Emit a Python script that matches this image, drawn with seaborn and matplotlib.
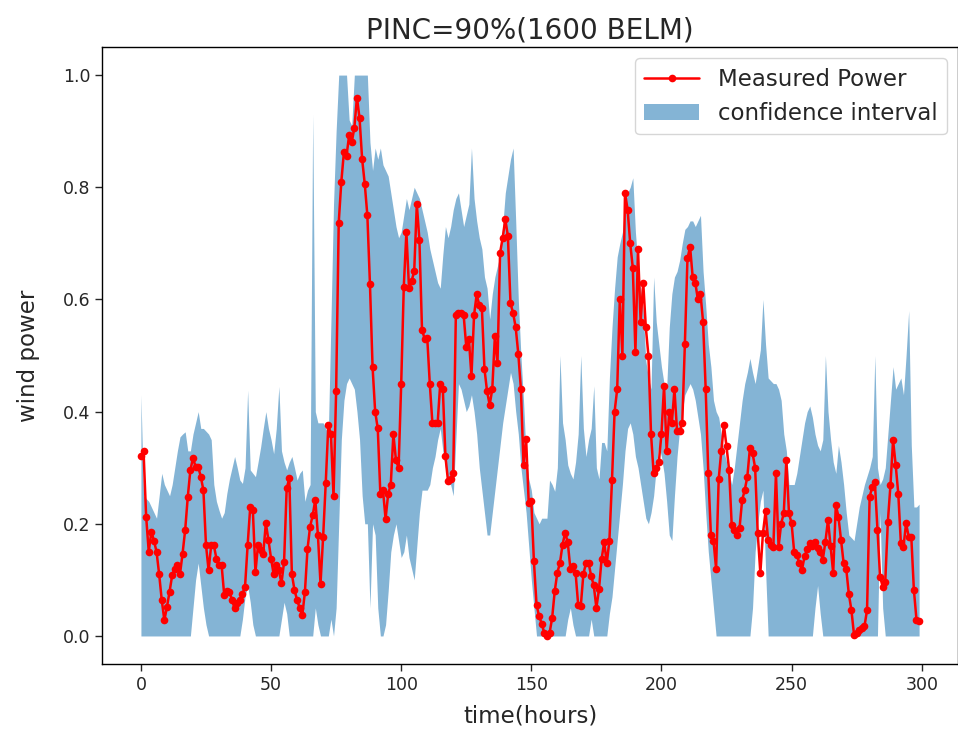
import numpy as np
import pandas as pd
import matplotlib
matplotlib.use("Agg")
import matplotlib.pyplot as plt
import seaborn as sns

title = "PINC=90%(1600 BELM)"
x_label = "time(hours)"
y_label = "wind power"
line_label = "Measured Power"
band_label = "confidence interval"

measured = [
    0.32, 0.33, 0.213, 0.15, 0.186, 0.17, 0.15, 0.11, 0.064, 0.028,
    0.052, 0.079, 0.108, 0.12, 0.126, 0.11, 0.147, 0.189, 0.248, 0.296,
    0.317, 0.302, 0.302, 0.284, 0.26, 0.162, 0.117, 0.162, 0.162, 0.138,
    0.126, 0.126, 0.073, 0.08, 0.079, 0.064, 0.049, 0.058, 0.064, 0.075,
    0.088, 0.162, 0.23, 0.224, 0.114, 0.162, 0.153, 0.147, 0.201, 0.171,
    0.138, 0.11, 0.126, 0.117, 0.094, 0.132, 0.263, 0.281, 0.11, 0.082,
    0.064, 0.05, 0.037, 0.078, 0.155, 0.195, 0.215, 0.243, 0.18, 0.093,
    0.176, 0.272, 0.376, 0.36, 0.249, 0.436, 0.737, 0.81, 0.863, 0.856,
    0.893, 0.88, 0.906, 0.96, 0.923, 0.85, 0.806, 0.75, 0.627, 0.48,
    0.40, 0.37, 0.253, 0.26, 0.209, 0.253, 0.27, 0.36, 0.313, 0.30,
    0.449, 0.623, 0.72, 0.62, 0.633, 0.65, 0.77, 0.706, 0.546, 0.53,
    0.532, 0.449, 0.379, 0.379, 0.379, 0.45, 0.44, 0.32, 0.276, 0.28,
    0.29, 0.572, 0.576, 0.576, 0.572, 0.516, 0.53, 0.463, 0.572, 0.609,
    0.59, 0.585, 0.476, 0.436, 0.412, 0.44, 0.535, 0.486, 0.683, 0.71,
    0.743, 0.713, 0.593, 0.576, 0.55, 0.503, 0.44, 0.305, 0.352, 0.237,
    0.24, 0.133, 0.056, 0.035, 0.022, 0.005, 0.0, 0.005, 0.032, 0.08,
    0.113, 0.13, 0.163, 0.184, 0.167, 0.12, 0.124, 0.113, 0.056, 0.053,
    0.11, 0.13, 0.13, 0.107, 0.09, 0.05, 0.083, 0.137, 0.167, 0.13,
    0.17, 0.278, 0.40, 0.44, 0.60, 0.50, 0.79, 0.76, 0.70, 0.656,
    0.507, 0.69, 0.56, 0.63, 0.55, 0.50, 0.36, 0.29, 0.30, 0.31,
    0.36, 0.446, 0.33, 0.40, 0.38, 0.44, 0.365, 0.365, 0.38, 0.52,
    0.673, 0.694, 0.64, 0.63, 0.60, 0.61, 0.56, 0.44, 0.29, 0.18,
    0.17, 0.12, 0.28, 0.33, 0.376, 0.338, 0.296, 0.198, 0.189, 0.18,
    0.192, 0.242, 0.26, 0.284, 0.335, 0.326, 0.30, 0.183, 0.112, 0.183,
    0.222, 0.171, 0.162, 0.159, 0.29, 0.159, 0.20, 0.219, 0.314, 0.219,
    0.201, 0.15, 0.144, 0.13, 0.118, 0.142, 0.155, 0.165, 0.16, 0.168,
    0.156, 0.15, 0.136, 0.168, 0.207, 0.16, 0.112, 0.234, 0.213, 0.171,
    0.13, 0.12, 0.075, 0.046, 0.002, 0.005, 0.011, 0.014, 0.017, 0.046,
    0.248, 0.266, 0.275, 0.189, 0.106, 0.088, 0.097, 0.204, 0.269, 0.349,
    0.305, 0.254, 0.165, 0.159, 0.201, 0.177, 0.177, 0.082, 0.029, 0.026,
]

upper = [
    0.43, 0.25, 0.245, 0.24, 0.23, 0.22, 0.21, 0.25, 0.29, 0.27,
    0.26, 0.25, 0.27, 0.30, 0.33, 0.355, 0.36, 0.364, 0.33, 0.33,
    0.36, 0.38, 0.40, 0.37, 0.37, 0.365, 0.36, 0.35, 0.27, 0.24,
    0.224, 0.21, 0.22, 0.254, 0.28, 0.30, 0.32, 0.30, 0.278, 0.272,
    0.30, 0.438, 0.296, 0.29, 0.284, 0.31, 0.337, 0.37, 0.40, 0.37,
    0.35, 0.325, 0.37, 0.445, 0.33, 0.31, 0.296, 0.31, 0.32, 0.30,
    0.278, 0.29, 0.296, 0.24, 0.26, 0.27, 0.93, 0.40, 0.38, 0.38,
    0.38, 0.37, 0.36, 0.56, 0.77, 0.90, 1.0, 1.0, 1.0, 1.0,
    0.92, 0.91, 1.0, 1.0, 1.0, 1.0, 1.0, 1.0, 0.88, 0.83,
    0.87, 0.85, 0.87, 0.84, 0.83, 0.82, 0.79, 0.76, 0.73, 0.71,
    0.72, 0.75, 0.78, 0.76, 0.78, 0.80, 0.79, 0.78, 0.76, 0.74,
    0.72, 0.69, 0.67, 0.65, 0.63, 0.62, 0.68, 0.73, 0.71, 0.73,
    0.76, 0.78, 0.79, 0.76, 0.73, 0.75, 0.77, 0.87, 0.78, 0.74,
    0.71, 0.69, 0.64, 0.62, 0.565, 0.61, 0.64, 0.66, 0.68, 0.73,
    0.79, 0.82, 0.85, 0.87, 0.74, 0.60, 0.50, 0.42, 0.32, 0.28,
    0.26, 0.22, 0.21, 0.20, 0.21, 0.21, 0.21, 0.278, 0.27, 0.258,
    0.30, 0.50, 0.38, 0.35, 0.305, 0.29, 0.28, 0.31, 0.36, 0.50,
    0.37, 0.32, 0.35, 0.37, 0.446, 0.30, 0.28, 0.345, 0.345, 0.33,
    0.46, 0.55, 0.62, 0.676, 0.70, 0.72, 0.77, 0.79, 0.80, 0.817,
    0.72, 0.66, 0.62, 0.58, 0.49, 0.46, 0.44, 0.64, 0.56, 0.52,
    0.48, 0.45, 0.44, 0.55, 0.61, 0.64, 0.65, 0.67, 0.70, 0.725,
    0.73, 0.74, 0.74, 0.73, 0.74, 0.75, 0.65, 0.59, 0.52, 0.48,
    0.42, 0.40, 0.39, 0.36, 0.33, 0.31, 0.29, 0.27, 0.30, 0.34,
    0.38, 0.42, 0.45, 0.47, 0.495, 0.47, 0.45, 0.48, 0.51, 0.60,
    0.52, 0.46, 0.455, 0.45, 0.45, 0.44, 0.42, 0.36, 0.33, 0.27,
    0.27, 0.27, 0.29, 0.32, 0.35, 0.38, 0.40, 0.41, 0.39, 0.36,
    0.34, 0.33, 0.35, 0.50, 0.40, 0.35, 0.31, 0.29, 0.34, 0.31,
    0.27, 0.22, 0.18, 0.175, 0.17, 0.20, 0.23, 0.25, 0.27, 0.285,
    0.30, 0.32, 0.50, 0.30, 0.27, 0.28, 0.30, 0.36, 0.42, 0.48,
    0.44, 0.45, 0.46, 0.43, 0.50, 0.58, 0.34, 0.23, 0.23, 0.235,
]

lower = [
    0, 0, 0, 0, 0, 0, 0, 0, 0, 0,
    0, 0, 0, 0, 0, 0, 0, 0, 0, 0,
    0.05, 0.10, 0.13, 0.09, 0.05, 0.02, 0, 0, 0, 0,
    0, 0, 0, 0, 0, 0, 0, 0, 0, 0.03,
    0.07, 0.09, 0.06, 0.02, 0, 0, 0, 0, 0, 0,
    0, 0, 0, 0, 0.03, 0.06, 0.04, 0, 0, 0,
    0, 0, 0, 0, 0, 0, 0, 0.05, 0.02, 0,
    0, 0, 0, 0.03, 0, 0.05, 0.20, 0.35, 0.42, 0.45,
    0.46, 0.45, 0.44, 0.40, 0.35, 0.25, 0.20, 0.20, 0.05, 0.20,
    0.18, 0.05, 0, 0, 0.02, 0.08, 0.15, 0.18, 0.20, 0.17,
    0.14, 0.15, 0.18, 0.14, 0.12, 0.10, 0.16, 0.22, 0.26, 0.26,
    0.26, 0.27, 0.30, 0.32, 0.35, 0.37, 0.33, 0.30, 0.27, 0.27,
    0.25, 0.35, 0.45, 0.44, 0.42, 0.40, 0.41, 0.43, 0.40, 0.36,
    0.30, 0.26, 0.22, 0.18, 0.18, 0.22, 0.26, 0.30, 0.34, 0.38,
    0.41, 0.44, 0.47, 0.45, 0.40, 0.36, 0.30, 0.26, 0.22, 0.16,
    0.10, 0.05, 0, 0, 0, 0, 0, 0, 0, 0,
    0, 0, 0, 0, 0.03, 0.05, 0.02, 0, 0, 0,
    0, 0, 0, 0.03, 0, 0, 0, 0, 0, 0,
    0.04, 0.07, 0.12, 0.17, 0.22, 0.27, 0.33, 0.37, 0.38, 0.36,
    0.32, 0.30, 0.27, 0.24, 0.21, 0.20, 0.22, 0.25, 0.30, 0.34,
    0.32, 0.29, 0.24, 0.18, 0.17, 0.25, 0.32, 0.37, 0.40, 0.43,
    0.44, 0.45, 0.44, 0.42, 0.39, 0.36, 0.30, 0.22, 0.15, 0.10,
    0.05, 0, 0, 0, 0, 0, 0, 0, 0, 0,
    0, 0, 0, 0, 0, 0.05, 0.15, 0.20, 0.24, 0.26,
    0.12, 0, 0, 0, 0, 0, 0, 0, 0, 0,
    0, 0, 0, 0, 0, 0, 0, 0, 0, 0.05,
    0.09, 0.04, 0, 0, 0, 0, 0, 0, 0, 0,
    0, 0, 0, 0, 0, 0, 0, 0, 0, 0,
    0, 0, 0, 0, 0.22, 0.05, 0, 0, 0, 0,
    0, 0, 0, 0, 0, 0, 0, 0, 0, 0,
]

hours = np.arange(len(measured))
df = pd.DataFrame({"hours": hours, "measured": measured,
                   "lower": lower, "upper": upper})

sns.set_style("ticks")
plt.rcParams["font.family"] = ["DejaVu Sans"]

fig = plt.figure(figsize=(9.58, 7.43), dpi=100)
ax = fig.add_axes([0.1065, 0.1063, 0.8935, 0.8304])

ax.fill_between(df["hours"], df["lower"], df["upper"],
                color="#1f77b4", alpha=0.55, linewidth=0, label=band_label)
sns.lineplot(data=df, x="hours", y="measured", ax=ax, color="red",
             marker="o", markersize=5.5, markeredgewidth=0,
             linewidth=1.8, label=line_label)

ax.set_xticks([0, 50, 100, 150, 200, 250, 300])
ax.set_yticks([0.0, 0.2, 0.4, 0.6, 0.8, 1.0])
ax.set_yticklabels(["0.0", "0.2", "0.4", "0.6", "0.8", "1.0"])
ax.tick_params(labelsize=12.5, direction="out", length=5, width=1)
ax.set_xlim(-14.95, 313.95)
ax.set_ylim(-0.05, 1.05)
ax.set_xlabel(x_label, fontsize=16.5, labelpad=8)
ax.set_ylabel(y_label, fontsize=16.5, labelpad=16)
ax.set_title(title, fontsize=20, pad=6)
for s in ax.spines.values():
    s.set_linewidth(1.0)
    s.set_color("black")

handles, labels = ax.get_legend_handles_labels()
order = [labels.index(line_label), labels.index(band_label)]
ax.legend([handles[i] for i in order], [labels[i] for i in order],
          loc="upper right", fontsize=16.5, frameon=True, handlelength=2.4)

fig.savefig("out.png", dpi=100)
